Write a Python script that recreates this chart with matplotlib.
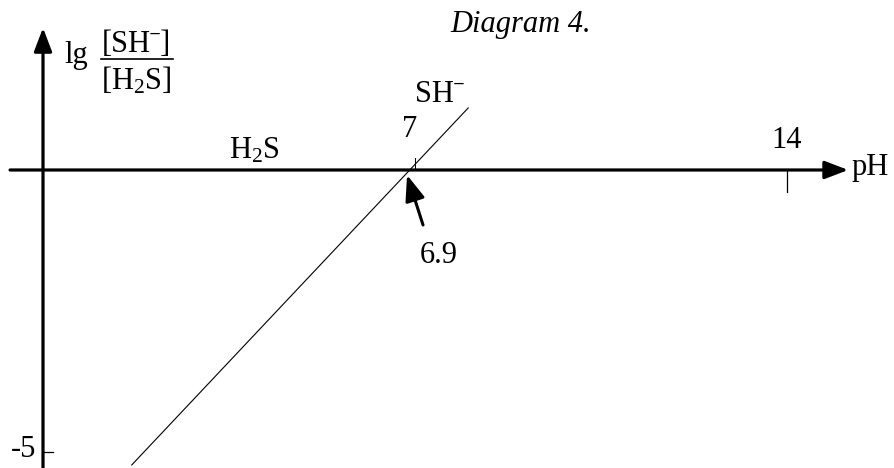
import matplotlib
matplotlib.use("Agg")
import matplotlib.pyplot as plt
import numpy as np
from matplotlib.patches import FancyArrowPatch

plt.rcParams['font.family'] = ['Liberation Serif', 'DejaVu Serif']
plt.rcParams['mathtext.fontset'] = 'custom'
plt.rcParams['mathtext.rm'] = 'Liberation Serif'
plt.rcParams['mathtext.it'] = 'Liberation Serif:italic'

# Data
pKa = 6.9                       # lg([SH-]/[H2S]) = pH - pKa
line_ph = [1.67, 8.0]           # extent of the drawn line
x_ticks = [7, 14]
x_tick_labels = ["7", "14"]
y_ticks = [-5]
y_tick_labels = ["-5"]

FS = 22

fig = plt.figure(figsize=(8.95, 4.68), dpi=100)
ax = fig.add_axes([0, 0, 1, 1])
ax.set_xlim(-0.809, 16.03)
ax.set_ylim(-5.284, 3.014)
ax.axis('off')

# Axes with arrow heads
for (x0, y0), (x1, y1) in [((-0.62, 0), (15.15, 0)), ((0, -5.3), (0, 2.52))]:
    arr = FancyArrowPatch((x0, y0), (x1, y1),
                          arrowstyle='-|>,head_length=1.1,head_width=0.42',
                          mutation_scale=13, lw=2.3, color='black',
                          shrinkA=0, shrinkB=0)
    ax.add_patch(arr)

# Ticks
ax.plot([x_ticks[1]] * 2, [0, -0.39], color='black', lw=0.9)
ax.plot([x_ticks[0]] * 2, [0, 0.22], color='black', lw=0.7)
ax.plot([0, 0.18], [y_ticks[0]] * 2, color='black', lw=0.9)

# Tick labels
ax.text(x_ticks[1], 0.53, x_tick_labels[1], fontsize=FS, ha='center', va='center')
ax.text(x_ticks[0] - 0.1, 0.71, x_tick_labels[0], fontsize=FS, ha='center', va='center')
ax.text(-0.13, y_ticks[0] + 0.05, y_tick_labels[0], fontsize=FS, ha='right', va='center')

# Axis names
ax.text(15.22, -0.09, "pH", fontsize=FS, ha='left', va='baseline')
ax.text(0.41, 1.90, "lg", fontsize=FS, ha='left', va='baseline')
ax.text(1.75, 2.09, "[SH\u02c9]", fontsize=FS, ha='center', va='baseline')
ax.plot([1.09, 2.45], [1.97, 1.97], color='black', lw=1.2)
ax.text(1.75, 1.42, r"[H$_2$S]", fontsize=FS, ha='center', va='baseline')

# Title
ax.text(8.98, 2.45, "Diagram 4.", fontsize=FS, style='italic', ha='center', va='baseline')

# Species regions
ax.text(3.97, 0.21, r"H$_2$S", fontsize=FS, ha='center', va='baseline')
ax.text(7.0, 1.2, "SH\u02c9", fontsize=FS, ha='left', va='baseline')

# Line lg = pH - pKa
ph = np.array(line_ph)
ax.plot(ph, ph - pKa, color='black', lw=0.8)

# Arrow marking the intersection point
ax.annotate("", xy=(pKa - 0.05, -0.09), xytext=(pKa + 0.25, -0.975),
            arrowprops=dict(arrowstyle='-|>,head_length=1.3,head_width=0.5',
                            mutation_scale=12, lw=2.2, color='black',
                            shrinkA=0, shrinkB=0))
ax.text(7.45, -1.51, f"{pKa}", fontsize=FS, ha='center', va='center')

fig.savefig("out.png", dpi=100)
